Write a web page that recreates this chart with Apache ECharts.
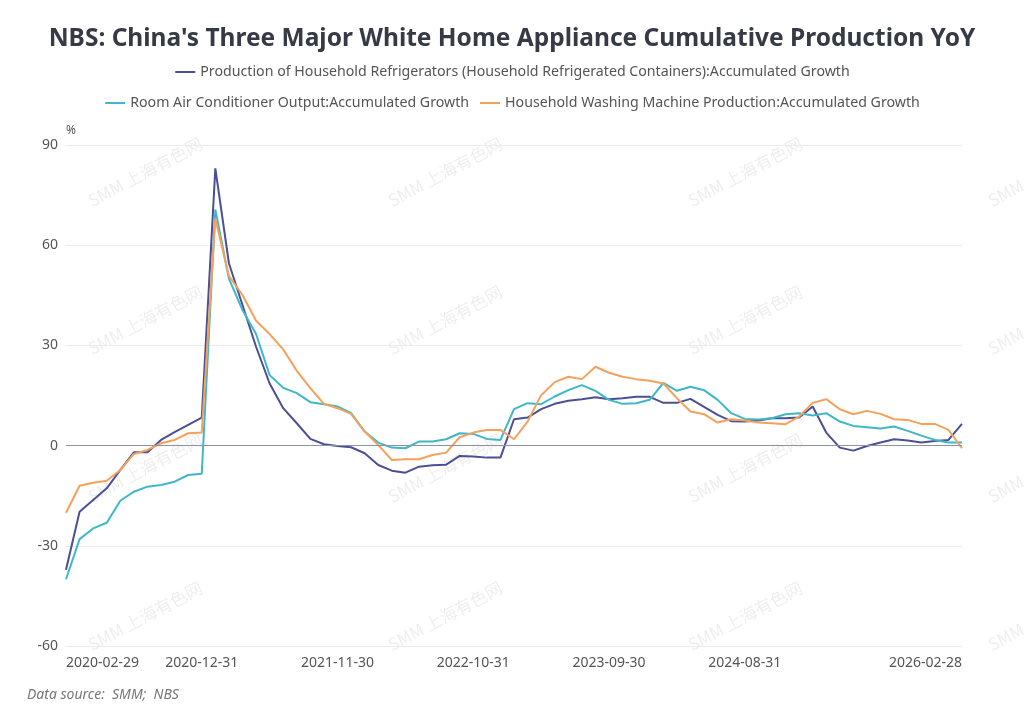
<!DOCTYPE html>
<html><head><meta charset="utf-8">
<script src="https://cdn.jsdelivr.net/npm/echarts@6/dist/echarts.min.js"></script>
<style>html,body{margin:0;padding:0;background:#fff}#c{width:1024px;height:722px}</style>
</head><body><div id="c"></div>
<script>
const categories = [
"2020-02-29","2020-03-31","2020-04-30","2020-05-31","2020-06-30","2020-07-31","2020-08-31","2020-09-30","2020-10-31","2020-11-30","2020-12-31",
"2021-02-28","2021-03-31","2021-04-30","2021-05-31","2021-06-30","2021-07-31","2021-08-31","2021-09-30","2021-10-31","2021-11-30","2021-12-31",
"2022-02-28","2022-03-31","2022-04-30","2022-05-31","2022-06-30","2022-07-31","2022-08-31","2022-09-30","2022-10-31","2022-11-30","2022-12-31",
"2023-02-28","2023-03-31","2023-04-30","2023-05-31","2023-06-30","2023-07-31","2023-08-31","2023-09-30","2023-10-31","2023-11-30","2023-12-31",
"2024-02-29","2024-03-31","2024-04-30","2024-05-31","2024-06-30","2024-07-31","2024-08-31","2024-09-30","2024-10-31","2024-11-30","2024-12-31",
"2025-02-28","2025-03-31","2025-04-30","2025-05-31","2025-06-30","2025-07-31","2025-08-31","2025-09-30","2025-10-31","2025-11-30","2025-12-31",
"2026-02-28"];
const fridge = [-37.2,-19.8,-16.3,-12.8,-7.3,-2.0,-2.0,1.7,4.0,6.2,8.4,
83.0,54.6,42.1,29.6,18.6,11.2,6.7,2.0,0.4,-0.1,-0.5,
-2.3,-5.8,-7.5,-8.1,-6.3,-5.9,-5.7,-3.1,-3.3,-3.6,-3.6,
7.9,8.4,10.9,12.5,13.4,13.9,14.5,13.9,14.2,14.6,14.6,
12.8,12.8,14.0,11.6,9.2,7.3,7.2,7.5,8.2,8.2,8.4,
11.7,3.9,-0.6,-1.5,-0.1,0.9,1.9,1.5,0.9,1.4,1.7,
6.5];
const aircon = [-40.0,-28.0,-24.8,-23.1,-16.5,-13.8,-12.3,-11.8,-10.8,-8.8,-8.4,
70.7,50.0,40.6,33.4,21.1,17.3,15.7,13.0,12.4,11.7,9.7,
4.2,0.9,-0.6,-0.8,1.2,1.2,1.9,3.7,3.5,2.0,1.7,
10.9,12.7,12.4,14.7,16.6,18.1,16.4,13.7,12.5,12.7,13.7,
18.8,16.4,17.6,16.6,13.7,9.7,8.0,7.8,8.2,9.4,9.7,
9.0,9.7,7.2,5.9,5.5,5.1,5.7,4.4,3.0,1.7,0.9,
0.9];
const washer = [-20.1,-12.0,-11.1,-10.5,-7.3,-2.5,-1.3,0.7,1.7,3.7,3.9,
68.0,50.8,45.1,37.4,33.4,28.8,22.4,17.2,12.5,11.2,9.5,
4.2,0.2,-4.3,-4.1,-4.1,-2.8,-2.1,2.5,3.9,4.7,4.7,
1.9,7.2,15.1,19.0,20.6,19.9,23.6,21.8,20.6,19.9,19.4,
18.6,14.2,10.2,9.4,6.9,7.9,7.5,6.9,6.7,6.4,8.7,
12.8,13.9,10.9,9.4,10.4,9.5,7.9,7.7,6.5,6.5,4.7,
-0.8];
const seriesNames = [
"Production of Household Refrigerators (Household Refrigerated Containers):Accumulated Growth",
"Room Air Conditioner Output:Accumulated Growth",
"Household Washing Machine Production:Accumulated Growth"];
const yTicks = [-60,-30,0,30,60,90];
const colors = ["#4b4f95","#3fb7c8","#f4a25b"];
const FONT = "'Noto Sans', 'Open Sans', sans-serif";

const wm = [];
[145,445,745,1045].forEach(cx => [172,320,468,616].forEach(cy => {
  wm.push({type:'text', x:cx, y:cy, rotation: Math.PI*28/180, z:-1, silent:true,
    style:{text:'SMM 上海有色网', fill:'rgba(0,0,0,0.07)', font:"17px 'Noto Sans CJK SC', sans-serif", align:'center', verticalAlign:'middle'}});
}));
wm.push({type:'text', left:27, top:688, style:{text:'Data source:  SMM;  NBS', fill:'#777', font:"italic 14px " + FONT}});

const chart = echarts.init(document.getElementById('c'));
chart.setOption({
  animation:false,
  backgroundColor:'#fff',
  color: colors,
  title:{text:"NBS: China's Three Major White Home Appliance Cumulative Production YoY", left:'center', top:22,
    textStyle:{fontSize:24.5, fontWeight:'bold', color:'#353a45', fontFamily:FONT}},
  legend:[
    {data:[seriesNames[0]], left:'center', top:60, itemWidth:20, itemHeight:2, itemGap:10,
     textStyle:{fontSize:14.2, color:'#555', fontFamily:FONT}},
    {data:[seriesNames[1], seriesNames[2]], left:'center', top:91, itemWidth:20, itemHeight:2, itemGap:10,
     textStyle:{fontSize:14.2, color:'#555', fontFamily:FONT}}
  ],
  grid:{left:66, right:62, top:145, bottom:76, containLabel:false},
  xAxis:{type:'category', data:categories, boundaryGap:false,
    axisLine:{show:false}, axisTick:{show:false},
    axisLabel:{color:'#555', fontSize:14, fontFamily:FONT, margin:10,
      interval:(i)=> (i%10===0 && i<60) || i===categories.length-1,
      showMaxLabel:true, alignMinLabel:'left', alignMaxLabel:'right'}},
  yAxis:{type:'value', min:yTicks[0], max:yTicks[yTicks.length-1], interval:30, name:'%',
    nameGap:8,
    nameTextStyle:{color:'#555', fontSize:12, fontFamily:FONT, align:'right', padding:[0,-10,0,0]},
    axisLabel:{color:'#555', fontSize:14, fontFamily:FONT, margin:8},
    splitLine:{lineStyle:{color:'#ebebeb'}}},
  graphic: wm,
  series:[
    {name:seriesNames[0], type:'line', data:fridge, symbol:'none', lineStyle:{width:2}, z:3,
     markLine:{silent:true, symbol:'none', label:{show:false}, lineStyle:{color:'#8e929e', type:'solid', width:1.2}, data:[{yAxis:0}]}},
    {name:seriesNames[1], type:'line', data:aircon, symbol:'none', lineStyle:{width:2}},
    {name:seriesNames[2], type:'line', data:washer, symbol:'none', lineStyle:{width:2}}
  ]
});
</script></body></html>
